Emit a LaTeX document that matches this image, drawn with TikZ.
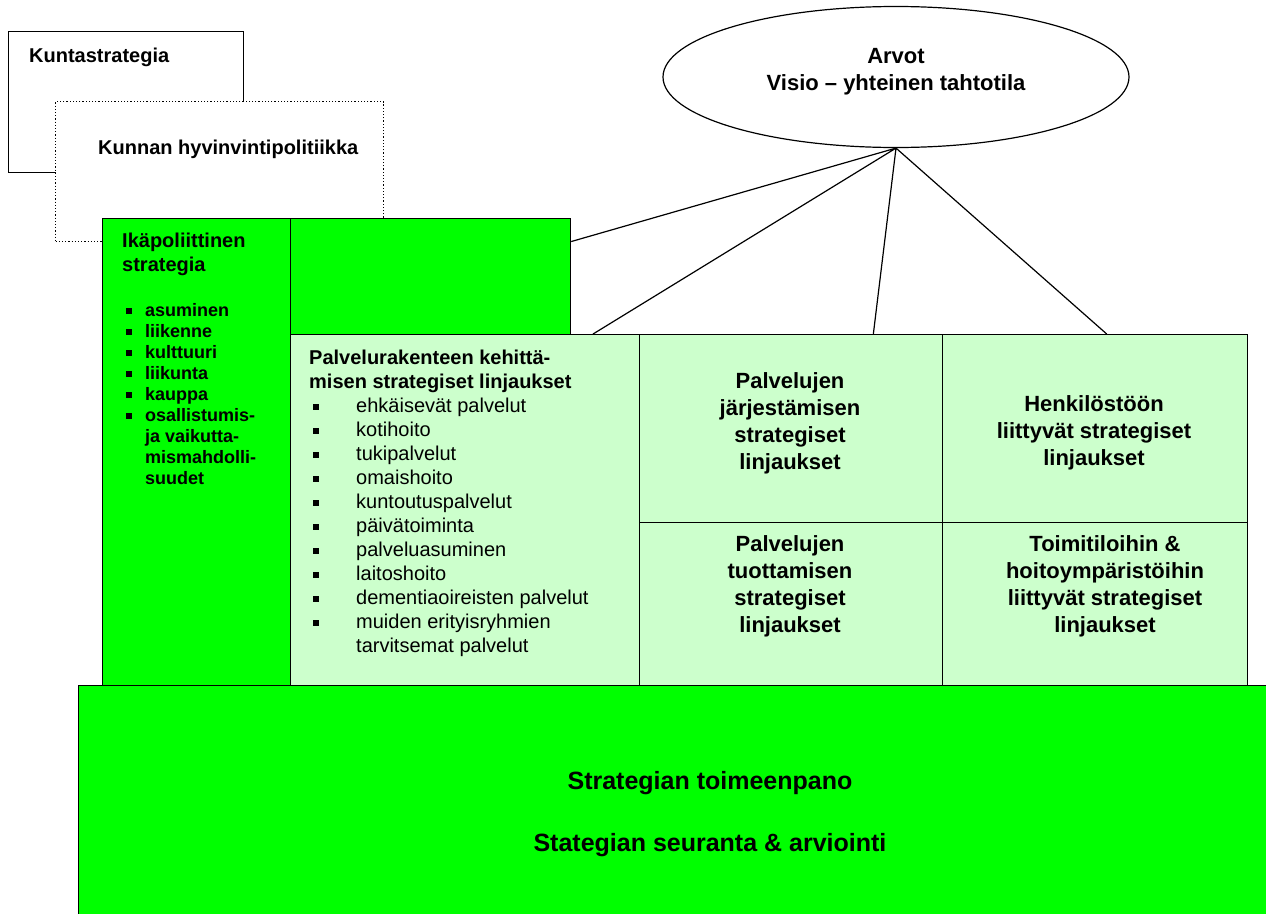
\documentclass[tikz,border=0pt]{standalone}
\usepackage{fontspec}
\setmainfont{Liberation Sans}
\usetikzlibrary{shapes.geometric}
\usetikzlibrary{positioning}
\definecolor{kirkas}{RGB}{0,255,0}
\definecolor{vaalea}{RGB}{204,255,204}
\tikzset{
    laatikko/.style={
           rectangle,
           draw=black, line width=1.2pt,
           inner sep=0pt,
           anchor=north west,
           },
    teksti/.style={
           inner sep=0pt,
           anchor=base west,
           },
}
% pieni musta neliö luettelomerkiksi
\newcommand{\nelio}[1]{\makebox[#1][l]{\rule[2pt]{6pt}{6pt}}}

\begin{document}
\begin{tikzpicture}[x=1pt,y=-1pt]
 \useasboundingbox (0,0) rectangle (1266,913);

 % taustalla olevat strategiat
 \node[laatikko,fill=white,minimum width=235,minimum height=141] (kunta) at (8,31) {};
 \node[laatikko,fill=white,dotted,minimum width=328,minimum height=140] (hyvinvointi) at (55,101) {};
 \node[teksti,font=\fontsize{20}{24}\selectfont\bfseries] (kuntateksti) at (29,62) {Kuntastrategia};
 \node[teksti,font=\fontsize{20}{24}\selectfont\bfseries] (hyvteksti) at (98,154) {Kunnan hyvinvintipolitiikka};

 % vihreät laatikot
 \node[laatikko,fill=kirkas,minimum width=188,minimum height=467] (ika) at (102,218) {};
 \node[laatikko,fill=kirkas,minimum width=280,minimum height=116] (ylaosa) at (290,218) {};

 % vaaleanvihreät linjaukset
 \node[laatikko,fill=vaalea,minimum width=349,minimum height=351] (palvrak) at (290,334) {};
 \node[laatikko,fill=vaalea,minimum width=303,minimum height=188] (jarj) at (639,334) {};
 \node[laatikko,fill=vaalea,minimum width=305,minimum height=188] (henk) at (942,334) {};
 \node[laatikko,fill=vaalea,minimum width=303,minimum height=163] (tuott) at (639,522) {};
 \node[laatikko,fill=vaalea,minimum width=305,minimum height=163] (toimi) at (942,522) {};

 % toimeenpano alhaalla
 \node[laatikko,fill=kirkas,minimum width=1200,minimum height=240] (toimeenpano) at (78,685) {};

 % arvot ja visio
 \node[ellipse,draw=black,line width=1.2pt,fill=white,minimum width=466,minimum height=141,inner sep=0pt] (arvot) at (896,77) {};

 % tekstit
 \node[teksti,font=\fontsize{20}{24}\selectfont\bfseries] (ikaotsikko) at (122,247)
 {\begin{tabular}[t]{@{}l@{}}Ikäpoliittinen\\strategia\end{tabular}};
 \node[teksti,font=\fontsize{18}{21}\selectfont\bfseries] (ikalista) at (126,316)
 {\begin{tabular}[t]{@{}l@{}}
   \nelio{19pt}asuminen\\
   \nelio{19pt}liikenne\\
   \nelio{19pt}kulttuuri\\
   \nelio{19pt}liikunta\\
   \nelio{19pt}kauppa\\
   \nelio{19pt}osallistumis-\\
   \hspace*{19pt}ja vaikutta-\\
   \hspace*{19pt}mismahdolli-\\
   \hspace*{19pt}suudet
 \end{tabular}};

 \node[teksti,font=\fontsize{20}{24}\selectfont] (palvrakteksti) at (309,364)
 {\begin{tabular}[t]{@{}l@{}}
   \textbf{Palvelurakenteen kehittä-}\\
   \textbf{misen strategiset linjaukset}\\
   \hspace*{4pt}\nelio{43pt}ehkäisevät palvelut\\
   \hspace*{4pt}\nelio{43pt}kotihoito\\
   \hspace*{4pt}\nelio{43pt}tukipalvelut\\
   \hspace*{4pt}\nelio{43pt}omaishoito\\
   \hspace*{4pt}\nelio{43pt}kuntoutuspalvelut\\
   \hspace*{4pt}\nelio{43pt}päivätoiminta\\
   \hspace*{4pt}\nelio{43pt}palveluasuminen\\
   \hspace*{4pt}\nelio{43pt}laitoshoito\\
   \hspace*{4pt}\nelio{43pt}dementiaoireisten palvelut\\
   \hspace*{4pt}\nelio{43pt}muiden erityisryhmien\\
   \hspace*{47pt}tarvitsemat palvelut
 \end{tabular}};

 \node[teksti,anchor=base,font=\fontsize{22}{27}\selectfont\bfseries] (jarjteksti) at (790,388)
 {\begin{tabular}[t]{@{}c@{}}Palvelujen\\järjestämisen\\strategiset\\linjaukset\end{tabular}};
 \node[teksti,anchor=base,font=\fontsize{22}{27}\selectfont\bfseries] (henkteksti) at (1094,411)
 {\begin{tabular}[t]{@{}c@{}}Henkilöstöön\\liittyvät strategiset\\linjaukset\end{tabular}};
 \node[teksti,anchor=base,font=\fontsize{22}{27}\selectfont\bfseries] (tuottteksti) at (790,551)
 {\begin{tabular}[t]{@{}c@{}}Palvelujen\\tuottamisen\\strategiset\\linjaukset\end{tabular}};
 \node[teksti,anchor=base,font=\fontsize{22}{27}\selectfont\bfseries] (toimiteksti) at (1105,551)
 {\begin{tabular}[t]{@{}c@{}}Toimitiloihin \&\\hoitoympäristöihin\\liittyvät strategiset\\linjaukset\end{tabular}};

 \node[teksti,anchor=base,font=\fontsize{22}{27}\selectfont\bfseries] (arvoteksti) at (896,63)
 {\begin{tabular}[t]{@{}c@{}}Arvot\\Visio – yhteinen tahtotila\end{tabular}};

 \node[teksti,anchor=base,font=\fontsize{25}{30}\selectfont\bfseries] (toimeenpanoteksti) at (710,789) {Strategian toimeenpano};
 \node[teksti,anchor=base,font=\fontsize{25}{30}\selectfont\bfseries] (seurantateksti) at (710,851) {Stategian seuranta \& arviointi};

 % viivat arvoista linjauksiin
 \draw[line width=1.2pt] (arvot.south) -- (ylaosa.14)
       (arvot.south) -- (palvrak.54)
       (arvot.south) -- (jarj.49)
       (arvot.south) -- (henk.83);
\end{tikzpicture}
\end{document}
